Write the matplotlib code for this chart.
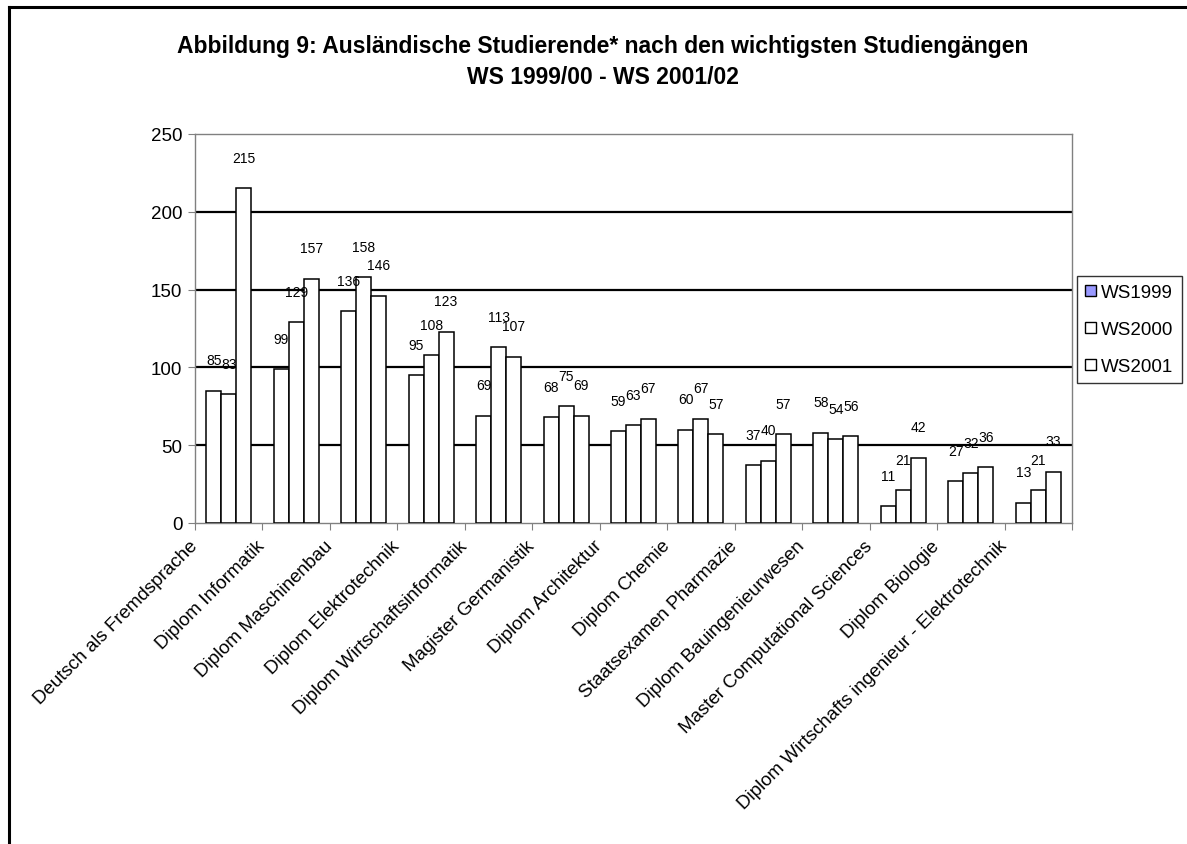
import matplotlib
matplotlib.use('Agg')
import matplotlib.pyplot as plt
import numpy as np
from matplotlib.patches import Patch
from matplotlib.lines import Line2D
from matplotlib.transforms import offset_copy

plt.rcParams['font.family'] = ['Liberation Sans', 'DejaVu Sans']

categories = ['Deutsch als Fremdsprache', 'Diplom Informatik', 'Diplom Maschinenbau',
              'Diplom Elektrotechnik', 'Diplom Wirtschaftsinformatik', 'Magister Germanistik',
              'Diplom Architektur', 'Diplom Chemie', 'Staatsexamen Pharmazie',
              'Diplom Bauingenieurwesen', 'Master Computational Sciences', 'Diplom Biologie',
              'Diplom Wirtschafts ingenieur - Elektrotechnik']
ws1999 = [85, 99, 136, 95, 69, 68, 59, 60, 37, 58, 11, 27, 13]
ws2000 = [83, 129, 158, 108, 113, 75, 63, 67, 40, 54, 21, 32, 21]
ws2001 = [215, 157, 146, 123, 107, 69, 67, 57, 57, 56, 42, 36, 33]
series_names = ['WS1999', 'WS2000', 'WS2001']
legend_colors = ['#9999ff', 'white', 'white']

W, H = 1187, 845
fig = plt.figure(figsize=(W / 100, H / 100), dpi=100)
ax = fig.add_axes([195 / W, (H - 524) / H, 877 / W, 389 / H])

x = np.arange(len(categories))
width = 0.222
for i, vals in enumerate([ws1999, ws2000, ws2001]):
    pos = x + (i - 1) * width
    ax.bar(pos, vals, width=width, color='white', edgecolor='black', linewidth=1.1, zorder=3)
    for px, v in zip(pos, vals):
        ax.text(px, v + 19.5, str(v), ha='center', va='center', fontsize=10, zorder=4)

ax.set_xlim(-0.5, len(categories) - 0.5)
ax.set_ylim(0, 250)
ax.set_yticks([0, 50, 100, 150, 200, 250])
ax.tick_params(axis='y', labelsize=13.5, direction='out', length=5, color='#808080', pad=4)
for yv in [50, 100, 150, 200]:
    ax.axhline(yv, color='black', linewidth=1.6, zorder=2)
for s in ax.spines.values():
    s.set_color('#808080')
    s.set_linewidth(1.0)

# category boundary ticks, labels drawn by hand
ax.set_xticks(np.arange(len(categories) + 1) - 0.5)
ax.set_xticklabels([])
ax.tick_params(axis='x', direction='out', length=5, color='#808080')
trans = offset_copy(ax.get_xaxis_transform(), fig=fig, x=-34, y=-20, units='dots')
for xi, name in zip(x, categories):
    ax.text(xi, 0, name, transform=trans, rotation=45, rotation_mode='anchor',
            ha='right', va='center', fontsize=13.5,
            family=['Liberation Sans Narrow', 'Liberation Sans', 'DejaVu Sans'])

fig.text(603 / W, 1 - 46 / H, 'Abbildung 9: Ausländische Studierende* nach den wichtigsten Studiengängen',
         ha='center', va='center', fontsize=16.5, fontweight='bold')
fig.text(603 / W, 1 - 77 / H, 'WS 1999/00 - WS 2001/02',
         ha='center', va='center', fontsize=16.5, fontweight='bold')

handles = [Patch(facecolor=c, edgecolor='black', linewidth=1) for c in legend_colors]
leg = fig.legend(handles, series_names, loc='upper left', bbox_to_anchor=(1077 / W, 1 - 277 / H),
                 fontsize=13.5, frameon=True, fancybox=False, borderaxespad=0,
                 handlelength=0.55, handleheight=0.55, handletextpad=0.3, labelspacing=1.05,
                 borderpad=0.45)
leg.get_frame().set_edgecolor('black')
leg.get_frame().set_linewidth(1.0)

# outer chart border
fig.add_artist(Line2D([9 / W, 1], [1 - 8 / H, 1 - 8 / H], color='black', linewidth=2.2))
fig.add_artist(Line2D([9 / W, 9 / W], [0, 1 - 8 / H], color='black', linewidth=2.2))

fig.savefig('out.png', dpi=100)
